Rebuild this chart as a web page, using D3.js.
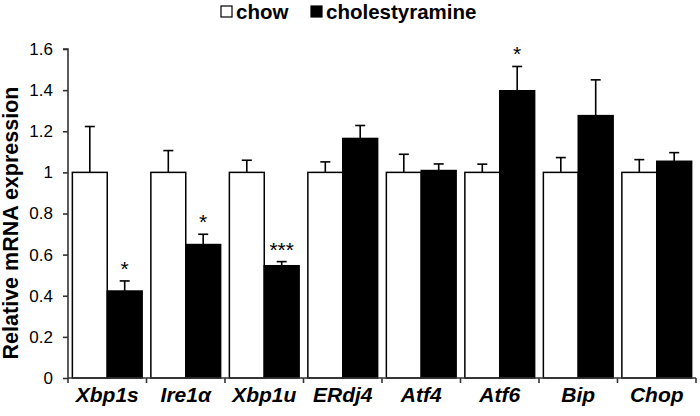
<!DOCTYPE html>
<html><head><meta charset="utf-8">
<script src="https://cdn.jsdelivr.net/npm/d3@7/dist/d3.min.js"></script>
<style>body{margin:0;background:#fff}svg{display:block}</style>
</head><body><svg id="c" width="700" height="416"></svg>
<script>
const categories = ["Xbp1s","Ire1α","Xbp1u","ERdj4","Atf4","Atf6","Bip","Chop"];
const seriesNames = ["chow","cholestyramine"];
const chowValues = [1,1,1,1,1,1,1,1];
const chowErrors = [0.223,0.106,0.059,0.051,0.088,0.040,0.072,0.062];
const cholValues = [0.423,0.649,0.546,1.165,1.009,1.397,1.276,1.054];
const cholErrors = [0.049,0.050,0.020,0.063,0.032,0.118,0.174,0.042];
const significance = ["*","*","***","","","*","",""];
const yTicks = [0,0.2,0.4,0.6,0.8,1,1.2,1.4,1.6];

const FONT = "Liberation Sans, Arial, sans-serif";
const svg = d3.select("#c");
const m = {left:68, right:4, top:49, bottom:38};
const W = 700, H = 416;
const x = d3.scaleBand().domain(categories).range([m.left, W - m.right]).paddingInner(0).paddingOuter(0);
const y = d3.scaleLinear().domain([0,1.6]).range([H - m.bottom, m.top]);
const inner = d3.scaleBand().domain(seriesNames).range([0, x.bandwidth()]).paddingOuter(0.125).paddingInner(0);
const colors = {chow:"#fff", cholestyramine:"#000"};

const data = categories.map((c,i)=>({c, vals:[
  {s:"chow", v:chowValues[i], e:chowErrors[i]},
  {s:"cholestyramine", v:cholValues[i], e:cholErrors[i]}], sig:significance[i]}));

const g = svg.append("g");
data.forEach(d=>{
  d.vals.forEach(b=>{
    const bx = x(d.c) + inner(b.s);
    const cx = bx + inner.bandwidth()/2;
    g.append("line").attr("x1",cx).attr("x2",cx).attr("y1",y(b.v)).attr("y2",y(b.v+b.e))
      .attr("stroke","#000").attr("stroke-width",1.6);
    g.append("line").attr("x1",cx-5).attr("x2",cx+5).attr("y1",y(b.v+b.e)).attr("y2",y(b.v+b.e))
      .attr("stroke","#000").attr("stroke-width",1.6);
    g.append("rect").attr("x",bx).attr("y",y(b.v)).attr("width",inner.bandwidth())
      .attr("height",y(0)-y(b.v)).attr("fill",colors[b.s]).attr("stroke","#000").attr("stroke-width",1.5);
    if (b.s==="cholestyramine" && d.sig){
      g.append("text").attr("x",cx).attr("y",y(b.v+b.e)-5).attr("text-anchor","middle")
        .attr("font-family",FONT).attr("font-size",21).text(d.sig);
    }
  });
});

// y axis
const ya = svg.append("g").attr("transform",`translate(${m.left},0)`)
  .call(d3.axisLeft(y).tickValues(yTicks).tickSize(5).tickPadding(10).tickFormat(d=>d3.format("")(d)));
ya.selectAll("path,line").attr("stroke","#333").attr("stroke-width",1.6);
ya.select(".domain").attr("d",`M-5,${y(1.6)}H0V${y(0)}`);
ya.selectAll("text").attr("font-family",FONT).attr("font-size",17).attr("fill","#000");

// x axis
const xa = svg.append("g").attr("transform",`translate(0,${y(0)})`);
xa.append("line").attr("x1",m.left).attr("x2",W-m.right).attr("y1",0).attr("y2",0).attr("stroke","#333").attr("stroke-width",1.6);
const bounds = categories.map(c=>x(c)).concat([W-m.right]);
bounds.forEach(b=>xa.append("line").attr("x1",b).attr("x2",b).attr("y1",0).attr("y2",5).attr("stroke","#333").attr("stroke-width",1.6));
categories.forEach(c=>{
  xa.append("text").attr("x",x(c)+x.bandwidth()/2).attr("y",24).attr("text-anchor","middle")
    .attr("font-family",FONT).attr("font-size",21)
    .attr("font-weight","bold").attr("font-style","italic").text(c);
});

// y label
svg.append("text").attr("transform",`translate(18,${223}) rotate(-90)`)
  .attr("text-anchor","middle").attr("font-family",FONT)
  .attr("font-size",21.5).attr("font-weight","bold").text("Relative mRNA expression");

// legend
const lg = svg.append("g");
const legendX = [221, 311];
seriesNames.forEach((s,i)=>{
  lg.append("rect").attr("x",legendX[i]).attr("y",6).attr("width",11).attr("height",11)
    .attr("fill",colors[s]).attr("stroke","#000").attr("stroke-width",1.2);
  lg.append("text").attr("x",legendX[i]+15).attr("y",19).attr("font-family",FONT)
    .attr("font-size",20.5).attr("font-weight","bold").text(s);
});
</script></body></html>
